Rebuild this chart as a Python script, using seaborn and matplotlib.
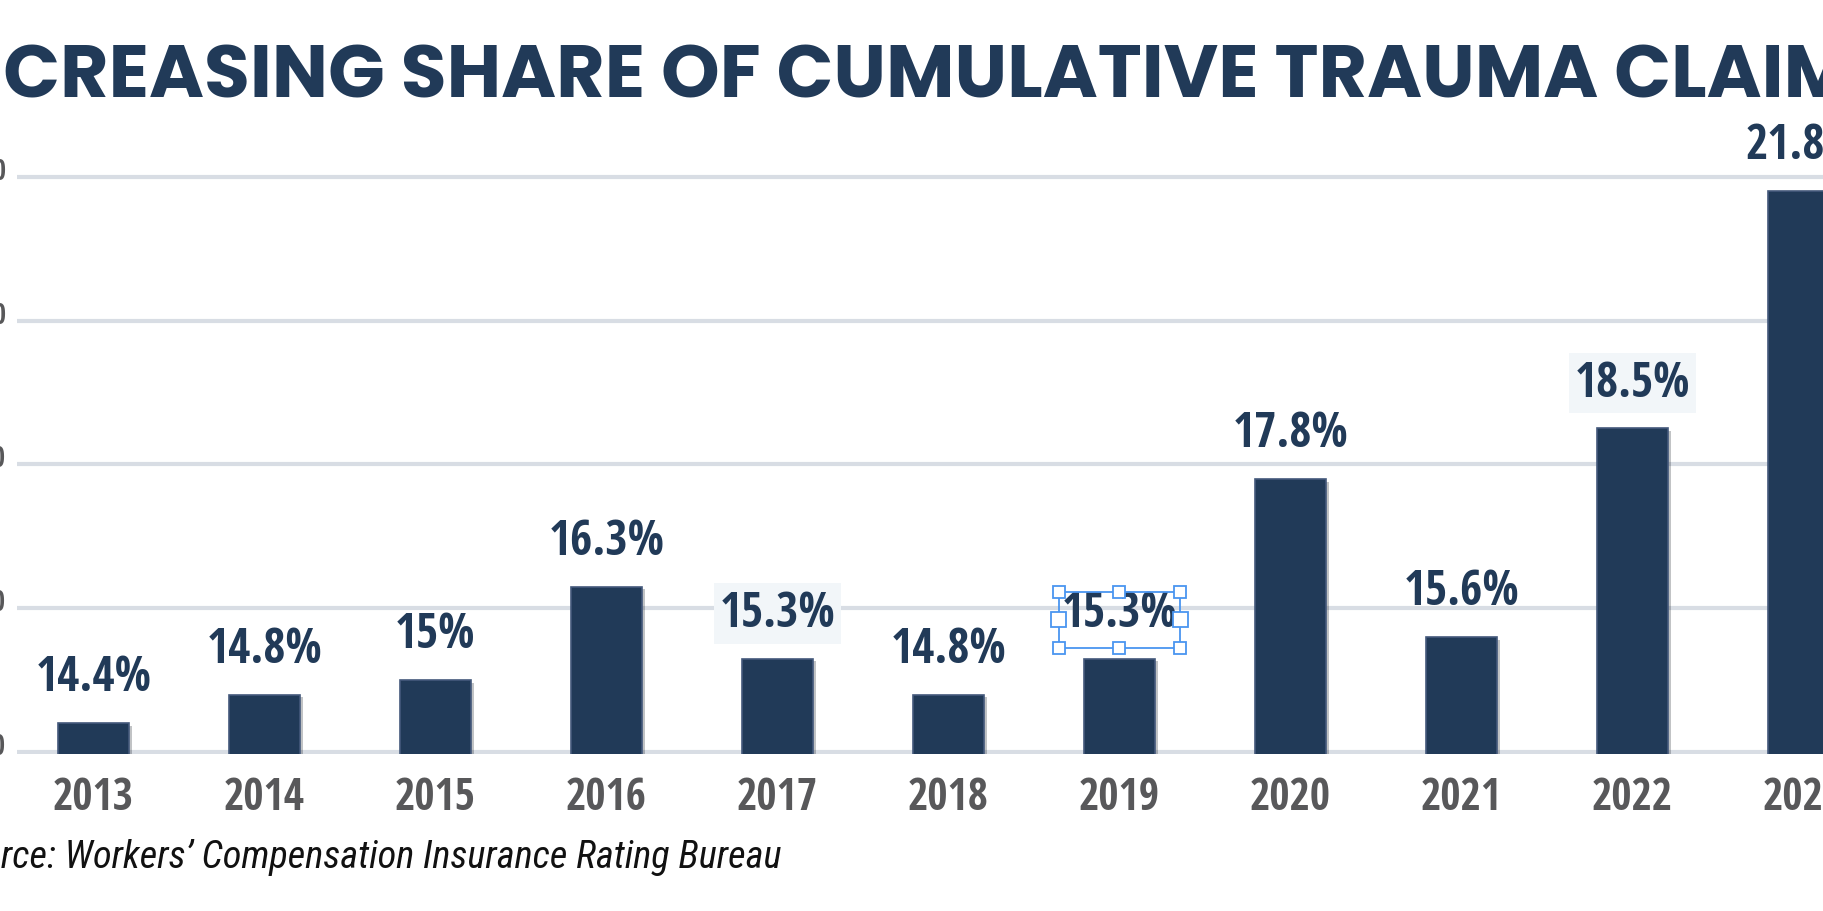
import matplotlib
matplotlib.use("Agg")
import numpy as np
import pandas as pd
import seaborn as sns
import matplotlib.pyplot as plt
import matplotlib.patheffects as pe
from matplotlib.patches import Rectangle
from matplotlib.transforms import IdentityTransform, ScaledTranslation

# data
years = ["2013", "2014", "2015", "2016", "2017", "2018", "2019", "2020", "2021", "2022", "2023"]
shares = [14.4, 14.8, 15.0, 16.3, 15.3, 14.8, 15.3, 17.8, 15.6, 18.5, 21.8]
share_labels = [f"{v:g}%" for v in shares]
y_ticks = [14, 16, 18, 20, 22]
shaded_years = ["2017", "2022"]
selected_year = "2019"
title = "INCREASING SHARE OF CUMULATIVE TRAUMA CLAIMS"
source = "Source: Workers\u2019 Compensation Insurance Rating Bureau"

NAVY = "#213a58"
GRAY = "#58585a"
GRID = "#d8dde4"
HANDLE = "#4a95f0"
COND = ["Open Sans Condensed", "Open Sans", "DejaVu Sans"]
TITLE_FONT = ["Poppins", "Lato", "DejaVu Sans"]
SRC_FONT = ["Roboto Condensed", "Liberation Sans Narrow", "DejaVu Sans"]

W, H = 1824, 912
sns.set_theme(style="white")
plt.rcParams["font.family"] = COND

fig = plt.figure(figsize=(W / 100, H / 100), dpi=100)
ax = fig.add_axes([17 / W, 0.1719, 1 - 17 / W, 0.6568])

df = pd.DataFrame({"year": years, "share": shares})
sns.barplot(data=df, x="year", y="share", color=NAVY, saturation=1, width=0.415,
            edgecolor="#44597b", linewidth=1.2, ax=ax)
for p in ax.patches:
    p.set_path_effects([pe.SimplePatchShadow(offset=(2, -2), alpha=0.25), pe.Normal()])

ax.set_xlim(-0.447, 10.12)
ax.set_ylim(13.97, 22.3)
ax.set_yticks(y_ticks)
ax.set_yticklabels([f"{t:.1f}" for t in y_ticks])
ax.yaxis.grid(True, color=GRID, linewidth=3)
ax.set_axisbelow(True)
sns.despine(ax=ax, left=True, bottom=True)
ax.set_xlabel("")
ax.set_ylabel("")
ax.tick_params(axis="x", length=0, pad=15, labelsize=31.5, labelcolor=GRAY)
ax.tick_params(axis="y", length=0, pad=8, labelsize=20, labelcolor=GRAY)
for lbl in ax.get_xticklabels() + ax.get_yticklabels():
    lbl.set_fontweight("bold")
for lbl in ax.get_yticklabels():
    lbl.set_transform(lbl.get_transform() + ScaledTranslation(0, 9 / 100, fig.dpi_scale_trans))

texts = ax.bar_label(ax.containers[0], labels=share_labels, padding=15,
                     color=NAVY, fontsize=34.5, fontweight="bold")
for yr, t in zip(years, texts):
    if yr in shaded_years:
        t.set_bbox(dict(boxstyle="square,pad=0.12", fc="#f2f6f9", ec="none"))

# title and source, fitted to the cropped picture
r = fig.canvas.get_renderer()

def text_w(s, **kw):
    t = fig.text(0, 0, s, **kw)
    w = t.get_window_extent(r).width
    t.remove()
    return w

tkw = dict(family=TITLE_FONT, fontweight="bold", color=NAVY)
tsize = 50 * 1610 / text_w("CREASING SHARE OF CUMULATIVE TRAUMA ", fontsize=50, **tkw)
x0 = 3 - text_w("IN", fontsize=tsize, **tkw)
fig.text(x0 / W, (H - 97) / H, title, fontsize=tsize, ha="left", va="baseline", **tkw)

skw = dict(family=SRC_FONT, style="italic", color="#111111")
ssize = 23 * 782 / text_w("rce: Workers\u2019 Compensation Insurance Rating Bureau", fontsize=23, **skw)
fig.text(782 / W, (H - 868) / H, source, fontsize=ssize, ha="right", va="baseline", **skw)

# selection handles round the 2019 label
fig.canvas.draw()
bb = texts[years.index(selected_year)].get_window_extent(r)
left, right = bb.x0 - 3, bb.x1 + 3
top, bottom = bb.y1 - 3, bb.y0 - 10
fig.add_artist(Rectangle((left, bottom), right - left, top - bottom, fill=False,
                         ec=HANDLE, lw=1.3, transform=IdentityTransform()))
for hx, hy, s in [(left, top, 12), ((left + right) / 2, top, 12), (right, top, 12),
                  (left, bottom, 12), ((left + right) / 2, bottom, 12), (right, bottom, 12),
                  (left, (top + bottom) / 2, 15), (right, (top + bottom) / 2, 15)]:
    fig.add_artist(Rectangle((hx - s / 2, hy - s / 2), s, s, fc="white", ec=HANDLE,
                             lw=1.3, transform=IdentityTransform()))

fig.savefig("out.png", dpi=100, facecolor="white")
